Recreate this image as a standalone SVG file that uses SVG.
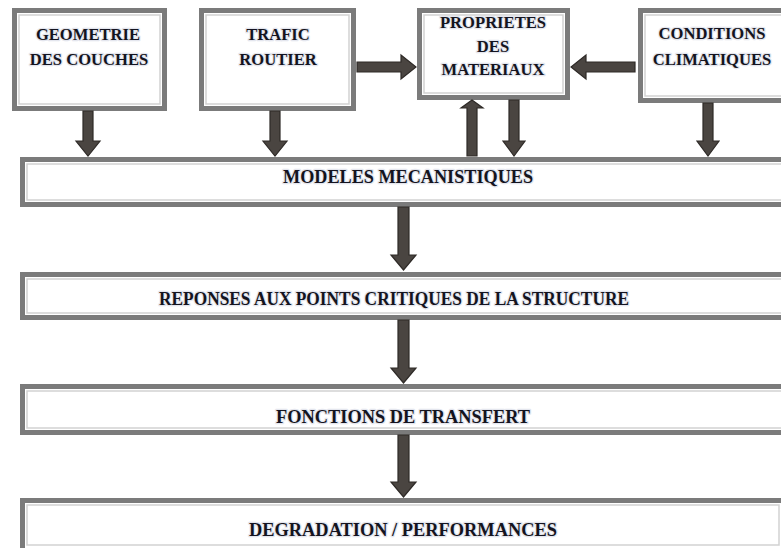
<svg xmlns="http://www.w3.org/2000/svg" width="781" height="548" viewBox="0 0 781 548">
<style>
.box{fill:#fff;stroke:#7b7b7b;stroke-width:5}
.inner{fill:none;stroke:#d2d2d2;stroke-width:1.5}
.lbl{font-family:"Liberation Serif","Times New Roman",serif;font-weight:bold;font-size:16.6px;fill:#141420;text-anchor:middle;stroke:#e4e6ee;stroke-width:2.5;paint-order:stroke;stroke-linejoin:round}
.big{font-size:17.8px}
.arr{fill:#4a4541;stroke:#2e2a27;stroke-width:1.2;stroke-linejoin:miter}
</style>
<rect width="781" height="548" fill="#fff"/>
<g id="geometrie">
<rect class="box" x="14.5" y="10.5" width="150" height="98"/>
<rect class="inner" x="19" y="15" width="141" height="89"/>
<text class="lbl" x="88" y="40">GEOMETRIE</text>
<text class="lbl" x="89" y="65">DES COUCHES</text>
</g>
<g id="trafic">
<rect class="box" x="201.5" y="10.5" width="152" height="98"/>
<rect class="inner" x="206" y="15" width="143" height="89"/>
<text class="lbl" x="278" y="40">TRAFIC</text>
<text class="lbl" x="278" y="65">ROUTIER</text>
</g>
<g id="proprietes">
<rect class="box" x="419.5" y="10.5" width="148" height="87"/>
<rect class="inner" x="424" y="15" width="139" height="78"/>
<text class="lbl" x="493" y="28">PROPRIETES</text>
<text class="lbl" x="493" y="52">DES</text>
<text class="lbl" x="493" y="75">MATERIAUX</text>
</g>
<g id="conditions">
<rect class="box" x="640.5" y="10.5" width="150" height="90"/>
<rect class="inner" x="645" y="15" width="141" height="81"/>
<text class="lbl" x="712" y="39">CONDITIONS</text>
<text class="lbl" x="712" y="65">CLIMATIQUES</text>
</g>
<g id="modeles">
<rect class="box" x="22.5" y="159.5" width="770" height="45"/>
<rect class="inner" x="27" y="164" width="761" height="36"/>
<text class="lbl big" x="408" y="183" textLength="250" lengthAdjust="spacingAndGlyphs">MODELES MECANISTIQUES</text>
</g>
<g id="reponses">
<rect class="box" x="22.5" y="274.5" width="770" height="43"/>
<rect class="inner" x="27" y="279" width="761" height="34"/>
<text class="lbl big" x="394" y="305" textLength="470" lengthAdjust="spacingAndGlyphs">REPONSES AUX POINTS CRITIQUES DE LA STRUCTURE</text>
</g>
<g id="fonctions">
<rect class="box" x="22.5" y="386.5" width="770" height="46"/>
<rect class="inner" x="27" y="391" width="761" height="37"/>
<text class="lbl big" x="403" y="423" textLength="254" lengthAdjust="spacingAndGlyphs">FONCTIONS DE TRANSFERT</text>
</g>
<g id="degradation">
<rect class="box" x="22.5" y="500.5" width="770" height="50"/>
<rect class="inner" x="27" y="505" width="752" height="40"/>
<text class="lbl big" x="403" y="536" textLength="308" lengthAdjust="spacingAndGlyphs">DEGRADATION / PERFORMANCES</text>
</g>
<g id="connectors">
<polygon class="arr" points="83,111 93,111 93,141 100,141 88,156 76,141 83,141"/>
<polygon class="arr" points="270,111 280,111 280,141 287,141 275,156 263,141 270,141"/>
<polygon class="arr" points="357,62 401,62 401,55 416,67 401,79 401,72 357,72"/>
<polygon class="arr" points="635,62 586,62 586,55 571,67 586,79 586,72 635,72"/>
<polygon class="arr" points="467,156 477,156 477,108 483,108 472,100 461,108 467,108"/>
<polygon class="arr" points="509,100 519,100 519,141 525,141 514,156 503,141 509,141"/>
<polygon class="arr" points="703,103 713,103 713,141 719,141 708,156 697,141 703,141"/>
<polygon class="arr" points="398,207 409,207 409,255 416,255 403.5,270 391,255 398,255"/>
<polygon class="arr" points="398,320 409,320 409,368 416,368 403.5,383 391,368 398,368"/>
<polygon class="arr" points="398,435 409,435 409,482 416,482 403.5,497 391,482 398,482"/>
</g>
</svg>
